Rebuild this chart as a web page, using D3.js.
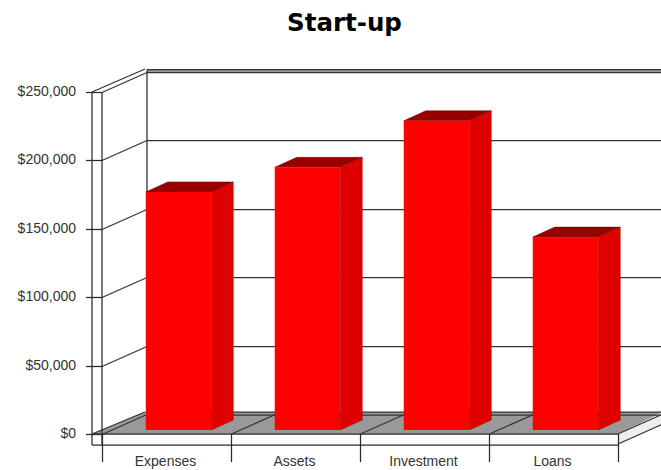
<!DOCTYPE html>
<html>
<head>
<meta charset="utf-8">
<script src="https://cdnjs.cloudflare.com/ajax/libs/d3/7.8.5/d3.min.js"></script>
<style>
html,body{margin:0;padding:0;background:#fff;overflow:hidden}
svg{display:block}
</style>
</head>
<body>
<script>
const chartTitle = "Start-up";
const categories = ["Expenses", "Assets", "Investment", "Loans"];
const amounts = [174000, 192000, 226000, 141000];
const tickValues = [0, 50000, 100000, 150000, 200000, 250000];

const width = 661, height = 470;
const axisColor = "#2a2a2a", gridColor = "#333", ledgeColor = "#999";
const labelColor = "#333", lineWidth = 1.25;
const wall = {dx: 45, dy: -20};      // front edge to back wall
const barPlane = {dx: 12, dy: -4};   // front edge to bar faces
const barDepth = {dx: 22, dy: -10};  // thickness of each bar
const barWidth = 65.5;

const x = d3.scaleBand().domain(categories).range([102, 618]);
const y = d3.scaleLinear().domain([0, 250000]).range([434, 92]);
const fmt = d3.format("$,.0f");

const svg = d3.select("body").append("svg").attr("width", width).attr("height", height);
const poly = pts => pts.map(p => p.join(",")).join(" ");
const line = (g, x1, y1, x2, y2, color = axisColor, w = lineWidth) =>
  g.append("line").attr("x1", x1).attr("y1", y1).attr("x2", x2).attr("y2", y2)
    .attr("stroke", color).attr("stroke-width", w);

svg.append("text").attr("x", 344.5).attr("y", 31).attr("text-anchor", "middle")
  .attr("font-family", "DejaVu Sans").attr("font-weight", "bold").attr("font-size", 24.5)
  .attr("fill", "#000").text(chartTitle);

// Floor slab
const floor = svg.append("g");
const fy = y(0), bx = 102 + wall.dx, by = fy + wall.dy, right = x.range()[1];
floor.append("polygon").attr("fill", ledgeColor)
  .attr("points", poly([[92, fy], [bx - 2, by - 2], [right + wall.dx, by - 2], [right, fy]]));
floor.append("polygon").attr("fill", "#eee")
  .attr("points", poly([[right, fy], [right + wall.dx, by], [right + wall.dx, by + 10], [right, fy + 11]]));
line(floor, bx, by - 2, width, by - 2, gridColor);
line(floor, bx, by + 1, width, by + 1, gridColor);
line(floor, right, fy, right + wall.dx, by, gridColor);
line(floor, right, fy + 10, right + wall.dx, by + 10, gridColor);
line(floor, 92, fy, right, fy, axisColor);
line(floor, 92, fy + 11, right, fy + 11, axisColor);
line(floor, 92, fy, bx - 2, by - 2, gridColor);

// Walls, gridlines and the value axis
const grid = svg.append("g");
const roof = y(250000) + wall.dy;
grid.append("rect").attr("fill", ledgeColor)
  .attr("x", bx).attr("y", roof - 2).attr("width", width - bx).attr("height", 2);
line(grid, bx, roof - 2, bx, by, axisColor);
line(grid, 92, y(250000), 92, fy + 11, axisColor);
line(grid, 102, y(250000), 102, fy + 11, axisColor);
line(grid, 92, y(250000), bx - 2, roof - 3, gridColor);
line(grid, bx, roof - 2.5, width, roof - 2.5, gridColor);
tickValues.forEach(v => {
  const t = Math.round(y(v)) + 0.5;
  line(grid, 86, t, 102, t, axisColor);
  line(grid, 102, t, bx, t + wall.dy, gridColor);
  if (v > 0) line(grid, bx, t + wall.dy, width, t + wall.dy, gridColor);
  grid.append("text").attr("x", 76).attr("y", t + 3.5).attr("text-anchor", "end")
    .attr("font-family", "Liberation Sans").attr("font-size", 14).attr("fill", labelColor)
    .text(fmt(v));
});

// Category ticks, floor seams and labels
const edges = categories.map(c => x(c)).concat(right);
edges.forEach((e, i) => {
  const t = Math.round(e) + 0.5;
  line(grid, t, fy, t, fy + 28, axisColor);
  if (i > 0 && i < categories.length) line(grid, t, fy, t + wall.dx, by, gridColor);
});
grid.selectAll("text.cat").data(categories).join("text").attr("class", "cat")
  .attr("x", d => x(d) + x.bandwidth() / 2 - 1).attr("y", 466).attr("text-anchor", "middle")
  .attr("font-family", "Liberation Sans").attr("font-size", 14).attr("fill", labelColor)
  .text(d => d);

// Bars, each built from front, side and top faces
const bars = svg.append("g").selectAll("g").data(categories).join("g");
const barLeft = d => x(d) + (x.bandwidth() - barWidth) / 2 + barPlane.dx;
const barTop = (d, i) => y(amounts[i]) + barPlane.dy;
const barBase = y(0) + barPlane.dy;
bars.append("polygon").attr("fill", "#980000").attr("stroke", "#7a0000").attr("stroke-width", 0.5)
  .attr("points", (d, i) => { const a = barLeft(d), t = barTop(d, i); return poly([
    [a, t], [a + barDepth.dx, t + barDepth.dy],
    [a + barWidth + barDepth.dx, t + barDepth.dy], [a + barWidth, t]]); });
bars.append("polygon").attr("fill", "#df0000").attr("stroke", "#a80000").attr("stroke-width", 0.5)
  .attr("points", (d, i) => { const r = barLeft(d) + barWidth, t = barTop(d, i); return poly([
    [r, t], [r + barDepth.dx, t + barDepth.dy],
    [r + barDepth.dx, barBase + barDepth.dy], [r, barBase]]); });
bars.append("rect").attr("fill", "#ff0000")
  .attr("x", d => barLeft(d)).attr("y", (d, i) => barTop(d, i))
  .attr("width", barWidth).attr("height", (d, i) => barBase - barTop(d, i));
</script>
</body>
</html>
